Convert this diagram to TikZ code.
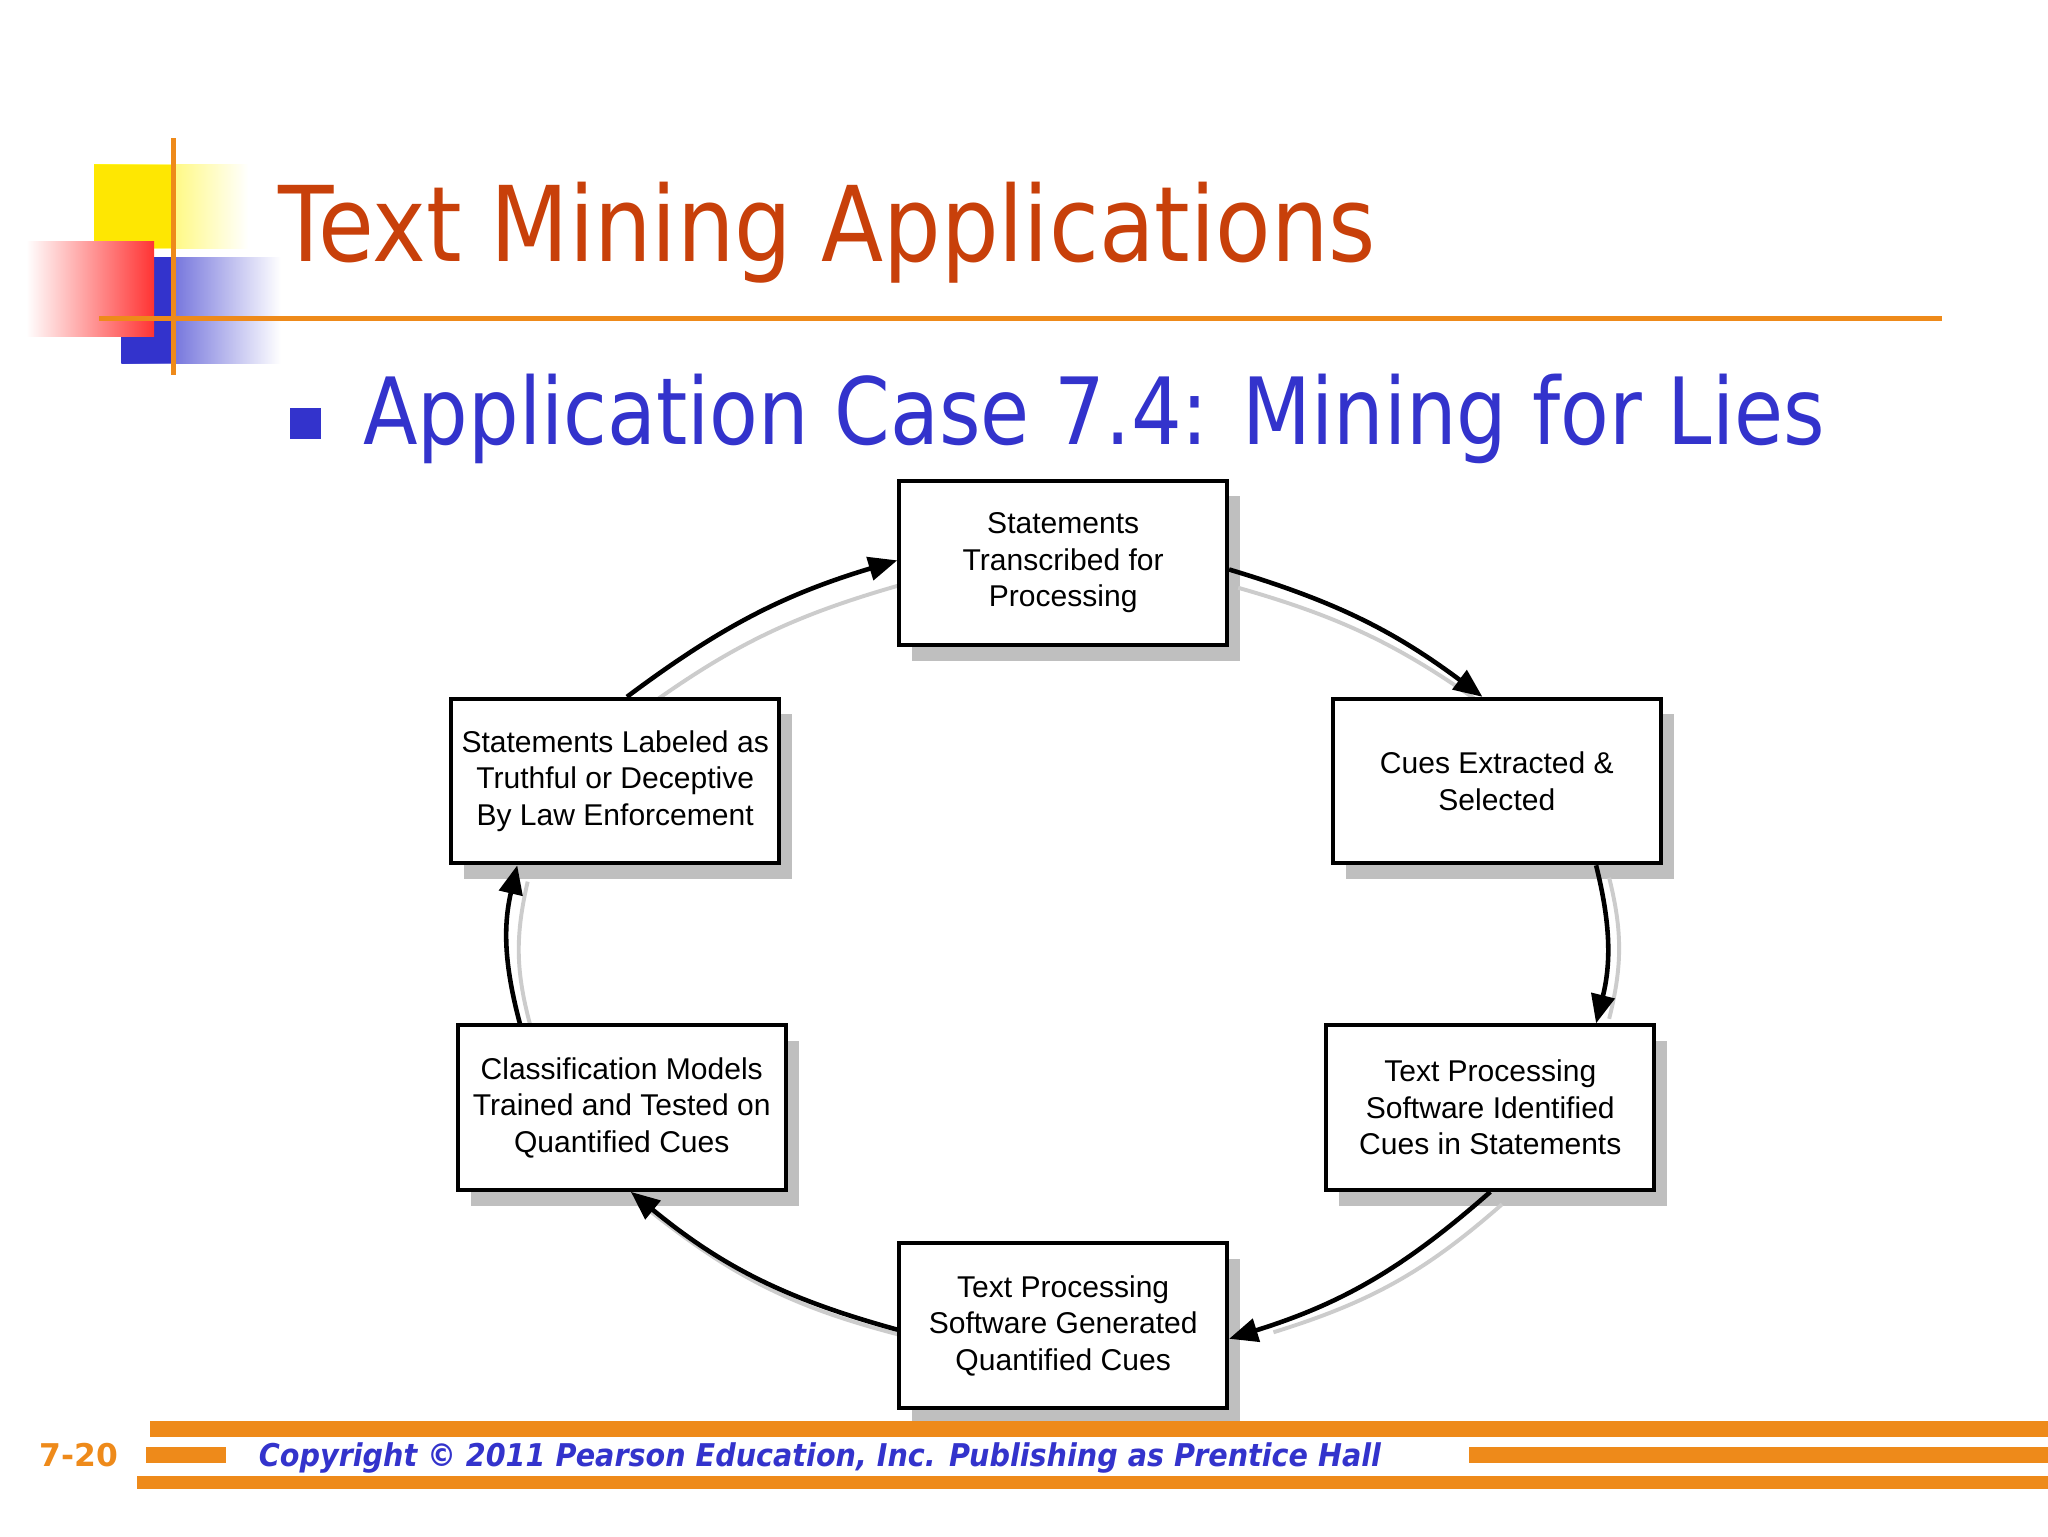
\documentclass[tikz,border=0pt]{standalone}
\usepackage{fontspec}
\setmainfont{Liberation Sans}
\newfontfamily\dv{DejaVu Sans}
\usetikzlibrary{arrows.meta}
\definecolor{ttl}{HTML}{C8400A}
\definecolor{sub}{HTML}{3333CC}
\definecolor{org}{HTML}{EE8A1A}
\begin{document}
\begin{tikzpicture}[x=1pt,y=-1pt,
  bx/.style={draw=black,line width=3pt,fill=white,minimum width=251pt,minimum height=126pt,align=center,font=\fontsize{23}{28}\selectfont,inner sep=0pt},
  sh/.style={fill=black!25,minimum width=251pt,minimum height=126pt,inner sep=0pt},
  ar/.style={line width=3.5pt,-{Triangle[length=22pt,width=18pt]}},
  ars/.style={line width=3pt,draw=black!20}]
\useasboundingbox (0,0) rectangle (1568,1176);
\fill[white] (0,0) rectangle (1568,1176);
% logo
\shade[left color=yellow!90!orange,right color=white] (72,126) rectangle (190,190);
\fill[yellow!90!orange] (72,126) rectangle (133,190);
\shade[left color=sub,right color=white] (93,197) rectangle (215,278);
\fill[sub] (93,197) rectangle (133,278);
\shade[left color=white,right color=red!80] (20,185) rectangle (118,258);
\draw[org,line width=4pt] (133,106) -- (133,287);
\draw[org,line width=4pt] (76,244) -- (1487,244);
% titles
\node[anchor=base west,inner sep=0,text=ttl,font=\dv\fontsize{80}{90}\selectfont] (t) at (213,200) {\resizebox{840pt}{\height}{Text Mining Applications}};
\fill[sub] (222,312) rectangle (246,336);
\node[anchor=base west,inner sep=0,text=sub,font=\dv\fontsize{71}{80}\selectfont] (s) at (278,340) {\resizebox{1119pt}{\height}{Application Case 7.4: Mining for Lies}};
% shadows
\foreach \p in {(824,443),(1156,610),(1151,860),(824,1027),(486,860),(481,610)} \node[sh] at \p {};
% connector shadows
\draw[ars] (948,450) to[bend left=10] (1143,545);
\draw[ars] (1232,672) to[bend left=14] (1232,780);
\draw[ars] (1150,922) to[bend left=12] (975,1020);
\draw[ars] (689,1022) to[bend left=12] (495,925);
\draw[ars] (406,785) to[bend left=14] (404,675);
\draw[ars] (490,545) to[bend left=10] (689,448);
% boxes
\node[bx] (a) at (814,431) {Statements\\Transcribed for\\Processing};
\node[bx] (b) at (1146,598) {Cues Extracted \&\\Selected};
\node[bx] (c) at (1141,848) {Text Processing\\Software Identified\\Cues in Statements};
\node[bx] (d) at (814,1015) {Text Processing\\Software Generated\\Quantified Cues};
\node[bx] (e) at (476,848) {Classification Models\\Trained and Tested on\\Quantified Cues};
\node[bx] (f) at (471,598) {Statements Labeled as\\Truthful or Deceptive\\By Law Enforcement};
% connectors
\draw[ar] (a.east) ++(0,5) coordinate (a1) (a1) to[bend left=10] ([xshift=-11pt]b.north);
\draw[ar] ([xshift=76pt]b.south) to[bend left=14] ([xshift=81pt]c.north);
\draw[ar] (c.south) to[bend left=12] ([yshift=-10pt]d.east);
\draw[ar] ([yshift=-3pt]d.west) to[bend left=12] ([xshift=7pt]e.north |- e.south);
\draw[ar] ([xshift=-78pt]e.north) to[bend left=14] ([xshift=-75pt]f.south);
\draw[ar] ([xshift=9pt]f.north) to[bend left=10] ([yshift=2pt]a.west);
% footer
\fill[org] (115,1088) rectangle (1568,1100);
\fill[org] (112,1108) rectangle (173,1120);
\fill[org] (1125,1108) rectangle (1568,1120);
\fill[org] (105,1130) rectangle (1568,1140);
\node[anchor=base west,inner sep=0,text=org,font=\dv\bfseries\fontsize{24}{28}\selectfont] (n) at (30,1123) {7-20};
\node[anchor=base west,inner sep=0,text=sub,font=\dv\bfseries\itshape\fontsize{24}{28}\selectfont] (cp) at (198,1123) {\resizebox{859pt}{\height}{Copyright © 2011 Pearson Education, Inc. Publishing as Prentice Hall}};
\end{tikzpicture}
\end{document}
